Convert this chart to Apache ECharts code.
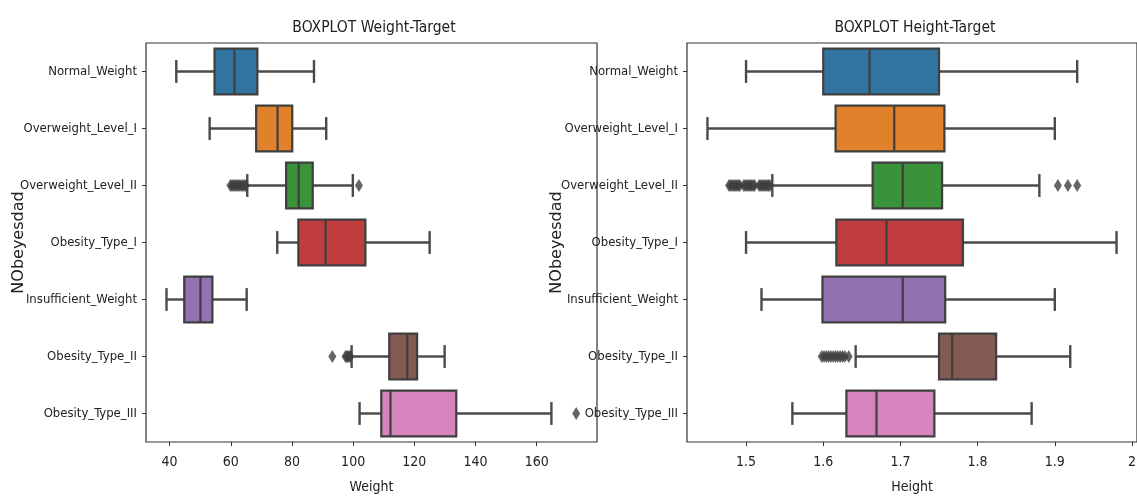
<!DOCTYPE html>
<html><head><meta charset="utf-8">
<script src="https://cdn.jsdelivr.net/npm/echarts@6/dist/echarts.min.js"></script>
<style>html,body{margin:0;padding:0;background:#fff}#c{width:1137px;height:498px}</style>
</head><body><div id="c"></div>
<script>
const categories = ['Normal_Weight','Overweight_Level_I','Overweight_Level_II','Obesity_Type_I','Insufficient_Weight','Obesity_Type_II','Obesity_Type_III'];
const colors = ['#3274a1','#e1812c','#3a923a','#c03d3e','#9372b2','#845b53','#d684bd'];
// [min whisker, Q1, median, Q3, max whisker]
const weightBox = [
  [42.2,54.7,61.2,68.7,87.2],
  [53.1,68.3,75.3,80.1,91.2],
  [65.4,78.1,82.2,86.8,99.9],
  [75.2,82.1,91.0,104.0,125.0],
  [39.0,44.8,50.1,54.0,65.2],
  [99.5,111.8,117.7,120.9,129.9],
  [102.1,109.2,112.2,133.7,164.8]
];
const weightOutliers = [
  [2,59.9],[2,60.4],[2,60.9],[2,61.4],[2,61.9],[2,62.4],[2,62.9],[2,63.4],[2,63.9],[2,64.4],[2,64.9],[2,101.9],
  [5,93.2],[5,97.5],[5,97.9],[5,98.3],[5,98.7],[5,99.1],
  [6,172.9]
];
const heightBox = [
  [1.50,1.600,1.660,1.750,1.929],
  [1.45,1.616,1.692,1.757,1.900],
  [1.534,1.664,1.703,1.754,1.880],
  [1.50,1.617,1.682,1.781,1.980],
  [1.52,1.599,1.703,1.758,1.900],
  [1.642,1.750,1.767,1.824,1.920],
  [1.56,1.630,1.669,1.744,1.870]
];
const heightOutliers = [
  [2,1.478],[2,1.480],[2,1.482],[2,1.484],[2,1.486],[2,1.488],[2,1.490],[2,1.492],
  [2,1.497],[2,1.499],[2,1.501],[2,1.503],[2,1.505],[2,1.507],[2,1.509],[2,1.511],
  [2,1.517],[2,1.519],[2,1.521],[2,1.523],[2,1.525],[2,1.527],[2,1.529],[2,1.531],
  [2,1.904],[2,1.917],[2,1.929],
  [5,1.598],[5,1.601],[5,1.604],[5,1.607],[5,1.610],[5,1.613],[5,1.616],[5,1.619],[5,1.622],[5,1.625],[5,1.628],[5,1.633]
];
const weightTicks = [40,60,80,100,120,140,160];
const heightTicks = [1.5,1.6,1.7,1.8,1.9,2.0];

const FONT = '"DejaVu Sans Condensed","Liberation Sans Narrow",sans-serif';
const LINE = '#4a4a4a';

function renderBox(params, api){
  const ci = api.value(0);
  const v = [1,2,3,4,5].map(i=>api.value(i));
  const px = v.map(x=>api.coord([x, ci])[0]);
  const y = api.coord([v[0], ci])[1];
  const band = api.size([0,1])[1];
  const h = band*0.8;
  const ls = {stroke: LINE, lineWidth: 2.4};
  return {type:'group', children:[
    {type:'line', shape:{x1:px[0],y1:y,x2:px[1],y2:y}, style:ls},
    {type:'line', shape:{x1:px[3],y1:y,x2:px[4],y2:y}, style:ls},
    {type:'line', shape:{x1:px[0],y1:y-h/4,x2:px[0],y2:y+h/4}, style:ls},
    {type:'line', shape:{x1:px[4],y1:y-h/4,x2:px[4],y2:y+h/4}, style:ls},
    {type:'rect', shape:{x:px[1],y:y-h/2,width:px[3]-px[1],height:h}, style:{fill:colors[ci], stroke:'#3f3f3f', lineWidth:2.2}},
    {type:'line', shape:{x1:px[2],y1:y-h/2,x2:px[2],y2:y+h/2}, style:{stroke:'#3f3f3f', lineWidth:2.2}}
  ]};
}

function boxData(arr){ return arr.map((r,i)=>[i].concat(r)); }
function outData(arr){ return arr.map(r=>[r[1], r[0]]); }

const chart = echarts.init(document.getElementById('c'), null, {renderer:'canvas'});
const xCommon = (ticks, name, min, max, idx) => ({
  type:'value', gridIndex: idx, min, max, name, nameLocation:'middle', nameGap: 38, nameMoveOverlap:false,
  nameTextStyle:{fontFamily:FONT, fontSize:14, color:'#222'},
  splitLine:{show:false}, axisLine:{show:false},
  axisTick:{show:true, length:4, lineStyle:{color:'#333'}, customValues: ticks},
  axisLabel:{show:true, fontFamily:FONT, fontSize:14, color:'#222', margin:13, customValues: ticks}
});
const yCommon = (idx, gap) => ({
  type:'category', gridIndex: idx, data: categories, inverse: true,
  name:'NObeyesdad', nameLocation:'middle', nameRotate:90, nameGap: gap, nameMoveOverlap:false,
  nameTextStyle:{fontFamily:'"DejaVu Sans",sans-serif', fontSize:16, color:'#222'},
  axisLine:{show:false}, splitLine:{show:false},
  axisTick:{show:true, alignWithLabel:true, length:4, lineStyle:{color:'#333'}},
  axisLabel:{fontFamily:FONT, fontSize:13, color:'#222', margin:9}
});
chart.setOption({
  animation:false,
  title:[
    {text:'BOXPLOT Weight-Target', left:369, top:15, textAlign:'center', textStyle:{fontFamily:FONT, fontSize:15.5, fontWeight:'normal', color:'#222'}},
    {text:'BOXPLOT Height-Target', left:910, top:15, textAlign:'center', textStyle:{fontFamily:FONT, fontSize:15.5, fontWeight:'normal', color:'#222'}}
  ],
  grid:[
    {left:146, right:540, top:43, bottom:56, show:true, borderColor:'#333', borderWidth:1.2, backgroundColor:'transparent', outerBoundsMode:'none', containLabel:false},
    {left:687, right:0, top:43, bottom:56, show:true, borderColor:'#333', borderWidth:1.2, backgroundColor:'transparent', outerBoundsMode:'none', containLabel:false}
  ],
  xAxis:[ xCommon(weightTicks,'Weight',32.3,179.7,0), xCommon(heightTicks,'Height',1.4235,2.0065,1) ],
  yAxis:[ yCommon(0,119), yCommon(1,122) ],
  series:[
    {type:'custom', xAxisIndex:0, yAxisIndex:0, renderItem:renderBox, data:boxData(weightBox), encode:{x:[1,2,3,4,5], y:0}},
    {type:'custom', xAxisIndex:1, yAxisIndex:1, renderItem:renderBox, data:boxData(heightBox), encode:{x:[1,2,3,4,5], y:0}},
    {type:'scatter', xAxisIndex:0, yAxisIndex:0, data:outData(weightOutliers), symbol:'diamond', symbolSize:[8,13], itemStyle:{color:'#3f3f3f'}},
    {type:'scatter', xAxisIndex:1, yAxisIndex:1, data:outData(heightOutliers), symbol:'diamond', symbolSize:[8,13], itemStyle:{color:'#3f3f3f'}}
  ]
});
</script></body></html>
